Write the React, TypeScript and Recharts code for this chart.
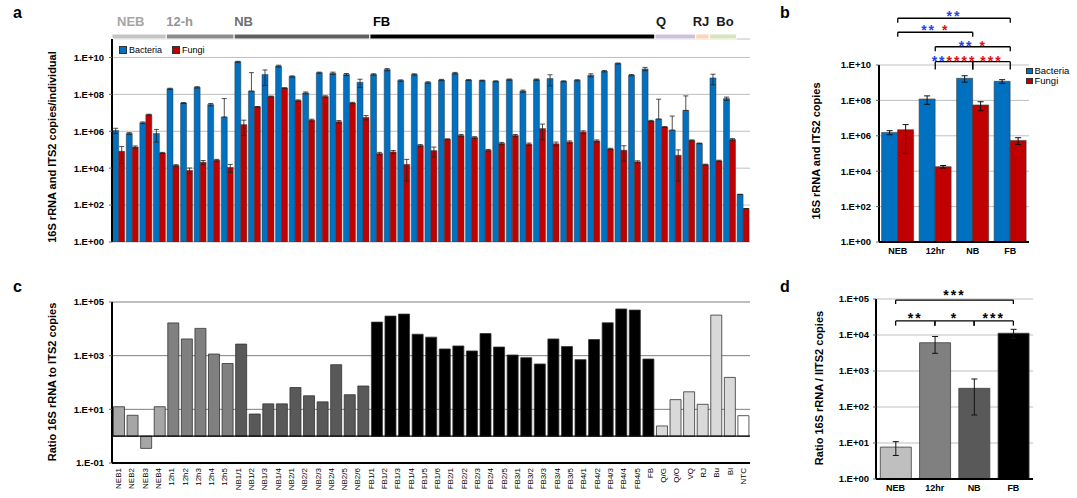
import {
  BarChart,
  Bar,
  XAxis,
  YAxis,
  CartesianGrid,
  ErrorBar,
  Cell,
  Legend,
  ReferenceArea,
  ReferenceLine,
} from "recharts";

// tick labels of panel c (48 labels, the chart itself has 47 bars)
const sampleLabels = [
  "NEB1", "NEB2", "NEB3", "NEB4",
  "12h1", "12h2", "12h3", "12h4", "12h5",
  "NB1/1", "NB1/2", "NB1/3", "NB1/4",
  "NB2/1", "NB2/2", "NB2/3", "NB2/4", "NB2/5", "NB2/6",
  "FB1/1", "FB1/2", "FB1/3", "FB1/4", "FB1/5", "FB1/6",
  "FB2/1", "FB2/2", "FB2/3", "FB2/4", "FB2/5",
  "FB3/1", "FB3/2", "FB3/3", "FB3/4", "FB3/5",
  "FB4/1", "FB4/2", "FB4/3", "FB4/4", "FB4/5",
  "FB", "Q/G", "Q/O", "VQ", "RJ", "Bu", "Bl", "NTC",
];

// panel a: copies per individual, one value per bar pair
const bacteria = [
  1.1e6, 7.6e5, 2.9e6, 7.6e5, 2.0e8, 3.4e7, 2.4e8, 2.8e7, 5.9e6, 5.8e9,
  1.5e8, 1.2e9, 3.4e9, 9.3e8, 1.2e8, 1.5e9, 1.4e9, 1.2e9, 4.5e8, 1.2e9,
  2.2e9, 5.6e8, 1.2e9, 4.4e8, 6.0e8, 1.4e9, 6.0e8, 5.6e8, 5.1e8, 6.3e8,
  1.5e8, 6.3e8, 7.2e8, 5.1e8, 5.8e8, 1.1e9, 1.8e9, 4.7e9, 1.1e9, 2.4e9,
  4.6e6, 1.15e6, 1.35e7, 2.2e5, 7.8e8, 5.9e7, 380,
];
const bacteriaErr = [
  3.5e5, 8e4, 3e5, 5e5, 1.5e7, 2e6, 2e7, 4e6, 5.3e7, 4e8,
  1.35e9, 9e8, 4e8, 7e7, 1.5e7, 1e8, 2e8, 1.5e8, 2.1e8, 1e8,
  3e8, 5e7, 1e8, 4e7, 5e7, 1.5e8, 3e7, 3e7, 3e7, 5e7,
  2e7, 5e7, 4.3e8, 3e7, 4e7, 2e8, 1.5e8, 3e8, 8e7, 5e8,
  5e7, 5.5e6, 6.9e7, 1e4, 4.5e8, 1.2e7, 0,
];
const fungi = [
  8.3e4, 1.4e5, 7.9e6, 6.7e4, 1.4e4, 7.6e3, 2.1e4, 2.7e4, 1.1e4, 2.3e6,
  2.1e7, 7.6e7, 2.2e8, 4.6e7, 4.0e6, 7.6e7, 3.3e6, 3.4e7, 5.6e6, 6.2e4,
  7.6e4, 1.6e4, 1.7e5, 9.0e4, 3.7e5, 5.9e5, 4.6e5, 9.4e4, 2.2e5, 5.9e5,
  2.0e5, 1.4e6, 2.1e5, 2.6e5, 9.0e5, 3.0e5, 1.1e5, 9.4e4, 2.2e4, 3.6e6,
  1.7e6, 5.0e4, 3.2e5, 1.55e4, 2.5e4, 3.6e5, 65,
];
const fungiErr = [
  6.5e4, 2e4, 5e5, 5e3, 1.5e3, 2.6e3, 5e3, 3e3, 5e3, 1.7e6,
  1e6, 5e6, 1e7, 4e6, 5e5, 8e6, 5e5, 3e6, 1.5e6, 1e4,
  1.5e4, 1.4e4, 2e4, 5e4, 2e4, 8e4, 5e4, 1e4, 3e4, 8e4,
  3e4, 1.05e6, 5e4, 4e4, 1.5e5, 4e4, 1e4, 7e4, 3e3, 3e5,
  1e5, 4.8e4, 2e4, 1e3, 2e3, 4e4, 0,
];

// panel c: ratio 16S / ITS2
const ratio = [
  12.5, 6, 0.35, 12.5, 16600, 4200, 10400, 1150, 510, 2700,
  6.7, 16, 16, 65, 32, 19, 460, 35, 74, 17800,
  29900, 35500, 6300, 4900, 1780, 2300, 1500, 6700, 2100, 1060,
  840, 490, 4200, 2180, 710, 4000, 16800, 55000, 50000, 750,
  2.4, 23, 45, 15.4, 32500, 155, 5.8,
];

// sample groups (bar index ranges)
const groupNames = ["NEB", "12-h", "NB", "FB", "Q", "RJ", "Bo"];
const groupFirst = [0, 4, 9, 19, 40, 43, 44];
const groupLast = [3, 8, 18, 39, 42, 43, 45];
const groupBandColors = ["#c4c4c4", "#8c8c8c", "#5f5f5f", "#000000", "#ccc1da", "#fcd5b5", "#d7e4bc"];
const groupTextColors = ["#a6a6a6", "#959595", "#707070", "#000000", "#1a1a1a", "#1a1a1a", "#1a1a1a"];
const groupLabelShift = [5, 0, 0, 3, 1, -3, 7];
const groupRatioColors = ["#a6a6a6", "#808080", "#595959", "#000000", "#d9d9d9", "#d9d9d9", "#d9d9d9"];

// panels b and d: pooled stages
const stages = ["NEB", "12hr", "NB", "FB"];
const stageBacteria = [1.55e6, 1.2e8, 1.77e9, 1.2e9];
const stageBacteriaErr = [4e5, 6e7, 7e8, 2.8e8];
const stageFungi = [2.2e6, 1.8e4, 5.5e7, 5.5e5];
const stageFungiErr = [2.1e6, 3e3, 2.9e7, 2.3e5];
const stageRatio = [7.7, 6100, 330, 11200];
const stageRatioErr = [3.2, 3000, 270, 3200];
const stageColors = ["#bfbfbf", "#808080", "#595959", "#000000"];

const BLUE = "#0070c0";
const RED = "#c00000";
const STAR_BLUE = "#2244ee";
const STAR_RED = "#e01010";

// significance brackets, level = log10 of the bracket height, gap = star lift in px
const bracketsB = [
  { from: "NEB", to: "FB", level: 12.64, drop: 0.25, gap: 5.6, stars: [["**", STAR_BLUE]] },
  { from: "NEB", to: "NB", level: 11.85, drop: 0.25, gap: 5.6, stars: [["**", STAR_BLUE], [" ", STAR_BLUE], ["*", STAR_RED]] },
  { from: "12hr", to: "FB", level: 11.03, drop: 0.25, gap: 4, stars: [["**", STAR_BLUE], [" ", STAR_BLUE], ["*", STAR_RED]] },
  { from: "12hr", to: "NB", level: 10.19, drop: 0.45, gap: 3.2, stars: [["**", STAR_BLUE], ["****", STAR_RED]] },
  { from: "NB", to: "FB", level: 10.19, drop: 0.45, gap: 3.2, stars: [["***", STAR_RED]] },
];
const bracketsD = [
  { from: "NEB", to: "FB", level: 4.97, drop: 0.11, gap: 8, stars: [["***", "#000"]] },
  { from: "NEB", to: "12hr", level: 4.39, drop: 0.13, gap: 6, stars: [["**", "#000"]] },
  { from: "12hr", to: "NB", level: 4.39, drop: 0.13, gap: 6, stars: [["*", "#000"]] },
  { from: "NB", to: "FB", level: 4.39, drop: 0.13, gap: 6, stars: [["***", "#000"]] },
];

const rowsA = bacteria.map((b, i) => ({
  id: `s${i}`,
  bacteria: b,
  bErr: [bacteriaErr[i] >= b ? 0 : bacteriaErr[i], bacteriaErr[i]],
  fungi: fungi[i],
  fErr: [fungiErr[i] >= fungi[i] ? 0 : fungiErr[i], fungiErr[i]],
}));

const groupOf = (i: number) => groupFirst.findIndex((f, g) => i >= f && i <= groupLast[g]);

const rowsC = ratio.map((r, i) => {
  const g = groupOf(i);
  return {
    id: `s${i}`,
    range: [Math.min(1, r), Math.max(1, r)],
    color: g < 0 ? "#ffffff" : groupRatioColors[g],
  };
});

const rowsLabels = sampleLabels.map((label) => ({ label }));

const rowsB = stages.map((s, i) => ({
  stage: s,
  bacteria: stageBacteria[i],
  bErr: [stageBacteriaErr[i] >= stageBacteria[i] ? 0 : stageBacteriaErr[i], stageBacteriaErr[i]],
  fungi: stageFungi[i],
  fErr: [stageFungiErr[i] >= stageFungi[i] ? 0 : stageFungiErr[i], stageFungiErr[i]],
}));

const rowsD = stages.map((s, i) => ({
  stage: s,
  ratio: stageRatio[i],
  err: [stageRatioErr[i] >= stageRatio[i] ? 0 : stageRatioErr[i], stageRatioErr[i]],
}));

const sci = (v: number) => {
  const e = Math.round(Math.log10(v));
  return `1.E${e < 0 ? "-" : "+"}${String(Math.abs(e)).padStart(2, "0")}`;
};

const tickStyle = { fontSize: 9.5, fontWeight: 700, fill: "#000" };
const axisLine = { stroke: "#000", strokeWidth: 2 };

const yTitle = (text: string, cx: number, cy: number) => () => (
  <text
    x={cx}
    y={cy}
    transform={`rotate(-90 ${cx} ${cy})`}
    textAnchor="middle"
    dominantBaseline="central"
    fontSize={11}
    fontWeight="bold"
    fill="#000"
  >
    {text}
  </text>
);

const starLabel = (stars: string[][], gap: number) => (props: any) => {
  const vb = props.viewBox || props;
  return (
    <text
      x={vb.x + vb.width / 2}
      y={vb.y + 8 - gap}
      textAnchor="middle"
      fontSize={14}
      fontWeight="bold"
      letterSpacing={2}
    >
      {stars.map(([s, c], i) => (
        <tspan key={i} fill={c}>
          {s}
        </tspan>
      ))}
    </text>
  );
};

const renderBrackets = (list: typeof bracketsB, prefix: string) =>
  list.flatMap((b, i) => {
    const top = 10 ** b.level;
    const low = 10 ** (b.level - b.drop);
    return [
      <ReferenceLine
        key={`${prefix}h${i}`}
        segment={[{ x: b.from, y: top }, { x: b.to, y: top }]}
        stroke="#000"
        strokeWidth={1.3}
        ifOverflow="visible"
        label={starLabel(b.stars, b.gap)}
      />,
      <ReferenceLine
        key={`${prefix}l${i}`}
        segment={[{ x: b.from, y: top }, { x: b.from, y: low }]}
        stroke="#000"
        strokeWidth={1.3}
        ifOverflow="visible"
      />,
      <ReferenceLine
        key={`${prefix}r${i}`}
        segment={[{ x: b.to, y: top }, { x: b.to, y: low }]}
        stroke="#000"
        strokeWidth={1.3}
        ifOverflow="visible"
      />,
    ];
  });

const bandLabel = (g: number) => (props: any) => {
  const vb = props.viewBox || props;
  return (
    <text
      x={vb.x + groupLabelShift[g]}
      y={vb.y - 8}
      fontSize={13}
      fontWeight="bold"
      fill={groupTextColors[g]}
    >
      {groupNames[g]}
    </text>
  );
};

const Swatch = ({ color, size }: { color: string; size: number }) => (
  <span
    style={{
      display: "inline-block",
      width: size,
      height: size,
      background: color,
      border: "0.5px solid #333",
      marginRight: 2,
    }}
  />
);

const LegendA = () => (
  <div style={{ display: "flex", alignItems: "center", fontSize: 9, lineHeight: "10px", color: "#000" }}>
    <Swatch color={BLUE} size={6} />
    <span style={{ marginRight: 10 }}>Bacteria</span>
    <Swatch color={RED} size={6} />
    <span>Fungi</span>
  </div>
);

const LegendB = () => (
  <div style={{ fontSize: 9.5, lineHeight: "10px", color: "#000" }}>
    <div style={{ display: "flex", alignItems: "center" }}>
      <Swatch color={BLUE} size={4.5} />
      <span>Bacteria</span>
    </div>
    <div style={{ display: "flex", alignItems: "center" }}>
      <Swatch color={RED} size={4.5} />
      <span>Fungi</span>
    </div>
  </div>
);

const SampleTick = (props: any) => {
  const { x, y, payload } = props;
  return (
    <text
      x={x}
      y={y}
      transform={`rotate(-90 ${x} ${y})`}
      textAnchor="end"
      dominantBaseline="central"
      fontSize={8}
      fill="#000"
    >
      {payload.value}
    </text>
  );
};

const PanelA = () => (
  <div style={{ position: "absolute", left: 0, top: 0 }}>
    <BarChart
      width={760}
      height={250}
      data={rowsA}
      margin={{ top: 39, right: 10, bottom: 8, left: 50 }}
      barCategoryGap="5%"
      barGap={0}
    >
      <CartesianGrid vertical={false} stroke="#bfbfbf" />
      <XAxis dataKey="id" tick={false} tickLine={false} height={0} axisLine={axisLine} />
      <YAxis
        scale="log"
        domain={[1, 1e11]}
        allowDataOverflow
        ticks={[1, 1e2, 1e4, 1e6, 1e8, 1e10]}
        interval={0}
        tickFormatter={sci}
        width={62}
        tick={tickStyle}
        tickSize={3}
        tickMargin={5}
        axisLine={axisLine}
        label={yTitle("16S rRNA and ITS2 copies/individual", 52, 147)}
      />
      {groupNames.map((name, g) => (
        <ReferenceArea
          key={name}
          x1={`s${groupFirst[g]}`}
          x2={`s${groupLast[g]}`}
          y1={1e11}
          y2={10 ** 11.27}
          fill={groupBandColors[g]}
          fillOpacity={1}
          stroke="#ffffff"
          strokeWidth={1}
          ifOverflow="visible"
          label={bandLabel(g)}
        />
      ))}
      <Legend
        layout="horizontal"
        verticalAlign="middle"
        align="center"
        wrapperStyle={{ left: 119, top: 45, width: "auto", height: "auto" }}
        content={() => <LegendA />}
      />
      <Bar dataKey="bacteria" name="Bacteria" fill={BLUE} stroke="#3a3a3a" strokeWidth={0.5} isAnimationActive={false}>
        <ErrorBar dataKey="bErr" width={2.5} stroke="#222" strokeWidth={0.8} direction="y" />
      </Bar>
      <Bar dataKey="fungi" name="Fungi" fill={RED} stroke="#3a3a3a" strokeWidth={0.5} isAnimationActive={false}>
        <ErrorBar dataKey="fErr" width={2.5} stroke="#222" strokeWidth={0.8} direction="y" />
      </Bar>
    </BarChart>
  </div>
);

const PanelB = () => (
  <div style={{ position: "absolute", left: 760, top: 0 }}>
    <BarChart
      width={317}
      height={260}
      data={rowsB}
      margin={{ top: 65, right: 48, bottom: 0, left: 53 }}
      barCategoryGap="7%"
      barGap={0}
    >
      <CartesianGrid vertical={false} stroke="#bfbfbf" />
      <XAxis
        dataKey="stage"
        tickLine={false}
        tickMargin={0}
        height={18}
        axisLine={axisLine}
        tick={{ fontSize: 9, fontWeight: 700, fill: "#000" }}
      />
      <YAxis
        scale="log"
        domain={[1, 1e10]}
        allowDataOverflow
        ticks={[1, 1e2, 1e4, 1e6, 1e8, 1e10]}
        interval={0}
        tickFormatter={sci}
        width={66}
        tick={tickStyle}
        tickSize={3}
        tickMargin={5}
        axisLine={axisLine}
        label={yTitle("16S rRNA and ITS2 copies", 56, 151)}
      />
      <Legend
        layout="vertical"
        verticalAlign="middle"
        align="center"
        wrapperStyle={{ left: 266, top: 66, width: "auto", height: "auto" }}
        content={() => <LegendB />}
      />
      <Bar dataKey="bacteria" name="Bacteria" fill={BLUE} stroke="#3a3a3a" strokeWidth={0.6} isAnimationActive={false}>
        <ErrorBar dataKey="bErr" width={3} stroke="#111" strokeWidth={1} direction="y" />
      </Bar>
      <Bar dataKey="fungi" name="Fungi" fill={RED} stroke="#3a3a3a" strokeWidth={0.6} isAnimationActive={false}>
        <ErrorBar dataKey="fErr" width={3} stroke="#111" strokeWidth={1} direction="y" />
      </Bar>
      {renderBrackets(bracketsB, "b")}
    </BarChart>
  </div>
);

const PanelC = () => (
  <div style={{ position: "absolute", left: 0, top: 280 }}>
    <BarChart
      width={760}
      height={218}
      data={rowsC}
      margin={{ top: 22, right: 10, bottom: 0, left: 50 }}
      barCategoryGap="11%"
    >
      <CartesianGrid vertical={false} stroke="#7f7f7f" />
      <XAxis dataKey="id" tick={false} tickLine={false} height={35} axisLine={axisLine} />
      <YAxis
        scale="log"
        domain={[0.1, 1e5]}
        allowDataOverflow
        ticks={[0.1, 10, 1e3, 1e5]}
        interval={0}
        tickFormatter={sci}
        width={62}
        tick={tickStyle}
        tickSize={3}
        tickMargin={5}
        axisLine={axisLine}
        label={yTitle("Ratio 16S rRNA to ITS2 copies", 52, 102)}
      />
      <ReferenceLine y={1} stroke="#000" strokeWidth={1.2} />
      <Bar dataKey="range" stroke="#333" strokeWidth={0.8} isAnimationActive={false}>
        {rowsC.map((r) => (
          <Cell key={r.id} fill={r.color} />
        ))}
      </Bar>
    </BarChart>
    {/* tick labels: the figure lists 48 sample names under 47 bars */}
    <div style={{ position: "absolute", left: 0, top: 0 }}>
      <BarChart width={760} height={218} data={rowsLabels} margin={{ top: 22, right: 10, bottom: 0, left: 112 }}>
        <XAxis
          dataKey="label"
          interval={0}
          tickLine={false}
          tickSize={0}
          tickMargin={5}
          axisLine={false}
          height={35}
          tick={<SampleTick />}
        />
        <YAxis hide />
      </BarChart>
    </div>
  </div>
);

const PanelD = () => (
  <div style={{ position: "absolute", left: 760, top: 260 }}>
    <BarChart
      width={317}
      height={238}
      data={rowsD}
      margin={{ top: 39, right: 44, bottom: 0, left: 56 }}
      barCategoryGap="11%"
    >
      <CartesianGrid vertical={false} stroke="#bfbfbf" />
      <XAxis
        dataKey="stage"
        tickLine={false}
        tickMargin={0}
        height={19}
        axisLine={axisLine}
        tick={{ fontSize: 9, fontWeight: 700, fill: "#000" }}
      />
      <YAxis
        scale="log"
        domain={[1, 1e5]}
        allowDataOverflow
        ticks={[1, 10, 1e2, 1e3, 1e4, 1e5]}
        interval={0}
        tickFormatter={sci}
        width={60}
        tick={tickStyle}
        tickSize={3}
        tickMargin={4}
        axisLine={axisLine}
        label={yTitle("Ratio 16S rRNA / IITS2 copies", 59, 128)}
      />
      <Bar dataKey="ratio" stroke="#404040" strokeWidth={0.8} isAnimationActive={false}>
        {rowsD.map((r, i) => (
          <Cell key={r.stage} fill={stageColors[i]} />
        ))}
        <ErrorBar dataKey="err" width={3} stroke="#111" strokeWidth={1} direction="y" />
      </Bar>
      {renderBrackets(bracketsD, "d")}
    </BarChart>
  </div>
);

const panelLetter = (text: string, left: number, top: number) => (
  <div
    style={{
      position: "absolute",
      left,
      top,
      fontSize: 16,
      fontWeight: "bold",
      lineHeight: "16px",
      color: "#000",
    }}
  >
    {text}
  </div>
);

export default function App() {
  return (
    <div
      style={{
        position: "absolute",
        left: 0,
        top: 0,
        width: 1077,
        height: 498,
        background: "#fff",
        overflow: "hidden",
        fontFamily: '"Liberation Sans", Arial, sans-serif',
      }}
    >
      <PanelA />
      <PanelB />
      <PanelC />
      <PanelD />
      {panelLetter("a", 13, 5)}
      {panelLetter("b", 780, 5)}
      {panelLetter("c", 13, 279)}
      {panelLetter("d", 780, 279)}
    </div>
  );
}
